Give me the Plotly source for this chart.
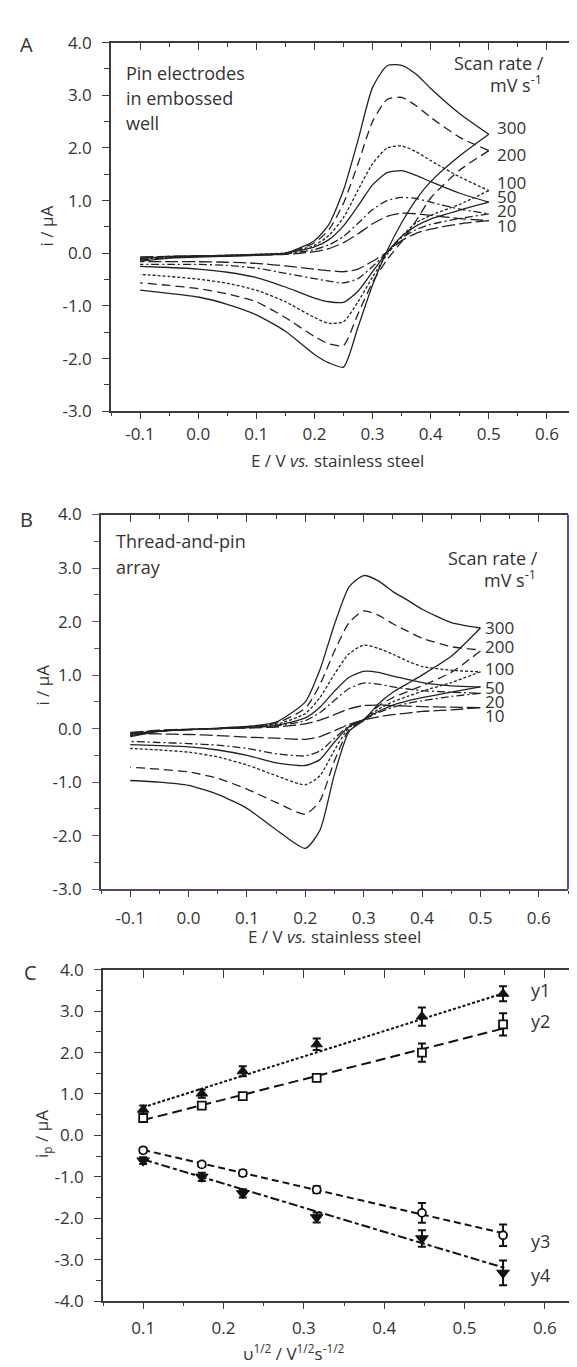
import plotly.graph_objects as go

# ---------------- DATA ----------------
# Potential grids (V vs. stainless steel)
E_fwd = [-0.1, -0.05, 0.0, 0.05, 0.1, 0.15, 0.2, 0.225, 0.25, 0.275, 0.3, 0.325, 0.35, 0.375, 0.4, 0.45, 0.5]
E_rev = [0.5, 0.45, 0.4, 0.375, 0.35, 0.325, 0.3, 0.275, 0.25, 0.225, 0.2, 0.15, 0.1, 0.05, 0.0, -0.05, -0.1]
scan_rates = ["300", "200", "100", "50", "20", "10"]

# Panel A: pin electrodes in embossed well (current, uA)
a_fwd_300 = [-0.15, -0.09, -0.07, -0.06, -0.04, 0.0, 0.24, 0.55, 1.2, 2.15, 3.15, 3.56, 3.57, 3.4, 3.13, 2.65, 2.26]
a_fwd_200 = [-0.13, -0.08, -0.06, -0.05, -0.03, 0.0, 0.2, 0.45, 0.95, 1.7, 2.5, 2.92, 2.96, 2.8, 2.58, 2.2, 1.95]
a_fwd_100 = [-0.12, -0.07, -0.05, -0.04, -0.02, 0.01, 0.15, 0.34, 0.68, 1.2, 1.7, 2.0, 2.04, 1.93, 1.76, 1.45, 1.19]
a_fwd_50 = [-0.1, -0.06, -0.05, -0.04, -0.02, 0.0, 0.12, 0.26, 0.52, 0.9, 1.3, 1.53, 1.57, 1.48, 1.36, 1.14, 0.97]
a_fwd_20 = [-0.09, -0.06, -0.05, -0.04, -0.03, -0.01, 0.07, 0.16, 0.32, 0.57, 0.83, 1.0, 1.06, 1.04, 0.97, 0.84, 0.75]
a_fwd_10 = [-0.07, -0.06, -0.05, -0.04, -0.03, -0.02, 0.03, 0.09, 0.2, 0.37, 0.56, 0.7, 0.76, 0.75, 0.72, 0.66, 0.62]

a_rev_300 = [2.26, 1.85, 1.36, 1.02, 0.58, 0.05, -0.6, -1.4, -2.16, -2.08, -1.92, -1.48, -1.17, -0.97, -0.83, -0.76, -0.70]
a_rev_200 = [1.95, 1.58, 1.05, 0.62, 0.22, -0.12, -0.55, -1.15, -1.75, -1.72, -1.58, -1.22, -0.92, -0.77, -0.67, -0.61, -0.56]
a_rev_100 = [1.19, 0.93, 0.72, 0.58, 0.32, -0.02, -0.45, -0.92, -1.3, -1.33, -1.22, -0.92, -0.70, -0.57, -0.49, -0.44, -0.40]
a_rev_50 = [0.97, 0.82, 0.65, 0.52, 0.32, 0.02, -0.35, -0.72, -0.93, -0.92, -0.85, -0.64, -0.46, -0.36, -0.30, -0.27, -0.25]
a_rev_20 = [0.75, 0.66, 0.55, 0.45, 0.29, 0.02, -0.25, -0.48, -0.56, -0.53, -0.48, -0.38, -0.28, -0.23, -0.21, -0.21, -0.21]
a_rev_10 = [0.62, 0.56, 0.46, 0.38, 0.24, 0.02, -0.15, -0.3, -0.35, -0.33, -0.30, -0.24, -0.19, -0.17, -0.16, -0.16, -0.16]

# Panel B: thread-and-pin array (current, uA)
b_fwd_300 = [-0.15, -0.05, -0.02, 0.01, 0.04, 0.12, 0.5, 1.1, 1.95, 2.65, 2.86, 2.76, 2.56, 2.4, 2.23, 1.98, 1.88]
b_fwd_200 = [-0.13, -0.05, -0.02, 0.0, 0.03, 0.1, 0.38, 0.82, 1.45, 1.98, 2.2, 2.12, 1.96, 1.82, 1.69, 1.53, 1.47]
b_fwd_100 = [-0.12, -0.05, -0.02, 0.0, 0.03, 0.08, 0.28, 0.58, 1.02, 1.4, 1.56, 1.5, 1.39, 1.26, 1.16, 1.09, 1.06]
b_fwd_50 = [-0.1, -0.04, -0.02, 0.0, 0.02, 0.06, 0.2, 0.4, 0.7, 0.96, 1.07, 1.05, 0.98, 0.92, 0.86, 0.8, 0.78]
b_fwd_20 = [-0.09, -0.04, -0.02, 0.0, 0.02, 0.05, 0.15, 0.3, 0.53, 0.75, 0.85, 0.83, 0.78, 0.74, 0.71, 0.68, 0.66]
b_fwd_10 = [-0.07, -0.03, -0.01, 0.0, 0.01, 0.03, 0.09, 0.16, 0.26, 0.37, 0.43, 0.44, 0.43, 0.42, 0.41, 0.4, 0.39]

b_rev_300 = [1.88, 1.35, 1.0, 0.84, 0.68, 0.46, 0.15, -0.05, -0.85, -1.9, -2.24, -1.89, -1.49, -1.23, -1.06, -1.0, -0.97]
b_rev_200 = [1.45, 1.05, 0.8, 0.69, 0.58, 0.42, 0.17, -0.02, -0.6, -1.35, -1.6, -1.38, -1.13, -0.93, -0.81, -0.76, -0.72]
b_rev_100 = [1.06, 0.86, 0.7, 0.6, 0.5, 0.36, 0.17, 0.02, -0.4, -0.88, -1.05, -0.88, -0.68, -0.53, -0.44, -0.4, -0.37]
b_rev_50 = [0.78, 0.68, 0.58, 0.52, 0.44, 0.32, 0.17, 0.04, -0.25, -0.58, -0.69, -0.64, -0.5, -0.4, -0.34, -0.32, -0.30]
b_rev_20 = [0.66, 0.6, 0.52, 0.47, 0.4, 0.3, 0.17, 0.05, -0.18, -0.42, -0.51, -0.47, -0.37, -0.31, -0.28, -0.26, -0.24]
b_rev_10 = [0.39, 0.35, 0.32, 0.29, 0.26, 0.22, 0.16, 0.08, -0.04, -0.15, -0.2, -0.18, -0.16, -0.13, -0.11, -0.1, -0.09]

# Panel C: peak current vs square root of scan rate
sqrt_rate = [0.1, 0.173, 0.224, 0.316, 0.447, 0.548]
y1 = [0.62, 1.01, 1.55, 2.2, 2.87, 3.42]
y1_err = [0.1, 0.1, 0.12, 0.14, 0.22, 0.18]
y2 = [0.42, 0.72, 0.95, 1.39, 2.0, 2.68]
y2_err = [0.06, 0.06, 0.06, 0.08, 0.22, 0.27]
y3 = [-0.36, -0.70, -0.91, -1.31, -1.87, -2.41]
y3_err = [0.06, 0.06, 0.07, 0.08, 0.24, 0.26]
y4 = [-0.61, -1.0, -1.40, -1.98, -2.49, -3.32]
y4_err = [0.08, 0.1, 0.1, 0.12, 0.2, 0.3]
fit_x = [0.1, 0.55]
fit_y1 = [0.68, 3.44]
fit_y2 = [0.37, 2.59]
fit_y3 = [-0.35, -2.37]
fit_y4 = [-0.58, -3.2]
series_names = ["y1", "y2", "y3", "y4"]

# Tick labels
e_ticks = [-0.1, 0.0, 0.1, 0.2, 0.3, 0.4, 0.5, 0.6]
e_ticktext = ["-0.1", "0.0", "0.1", "0.2", "0.3", "0.4", "0.5", "0.6"]
i_ticks_ab = [-3, -2, -1, 0, 1, 2, 3, 4]
i_ticktext_ab = ["-3.0", "-2.0", "-1.0", "0.0", "1.0", "2.0", "3.0", "4.0"]
i_ticks_c = [-4, -3, -2, -1, 0, 1, 2, 3, 4]
i_ticktext_c = ["-4.0", "-3.0", "-2.0", "-1.0", "0.0", "1.0", "2.0", "3.0", "4.0"]
u_ticks = [0.1, 0.2, 0.3, 0.4, 0.5, 0.6]
u_ticktext = ["0.1", "0.2", "0.3", "0.4", "0.5", "0.6"]

# ---------------- STYLE / LAYOUT ----------------
W, H = 577, 1367
FONT = "Open Sans"
INK = "#222222"
AXC = "#3c3c3c"
PURPLE = "#5b4f9e"

dash_for = {"300": "solid", "200": "9px,5px", "100": "3px,2px", "50": "solid",
            "20": "8px,3px,2px,3px", "10": "13px,4px"}

def dom_x(a, b):
    return [a / W, b / W]

def dom_y(top, bottom):
    return [1 - bottom / H, 1 - top / H]

fig = go.Figure()

panels = [
    ("x", "y", [a_fwd_300, a_fwd_200, a_fwd_100, a_fwd_50, a_fwd_20, a_fwd_10],
     [a_rev_300, a_rev_200, a_rev_100, a_rev_50, a_rev_20, a_rev_10]),
    ("x2", "y2", [b_fwd_300, b_fwd_200, b_fwd_100, b_fwd_50, b_fwd_20, b_fwd_10],
     [b_rev_300, b_rev_200, b_rev_100, b_rev_50, b_rev_20, b_rev_10]),
]
for xa, ya, fwds, revs in panels:
    for rate, fw, rv in zip(scan_rates, fwds, revs):
        for ex, cur in ((E_fwd, fw), (E_rev, rv)):
            fig.add_trace(go.Scatter(
                x=ex, y=cur, mode="lines", xaxis=xa, yaxis=ya, showlegend=False,
                line=dict(color=INK, width=1.3, dash=dash_for[rate], shape="spline", smoothing=0.6),
                hoverinfo="skip"))

# Panel C
fit_style = {"y1": "3px,2px", "y2": "10px,5px", "y3": "7px,4px", "y4": "9px,3px,4px,3px"}
fits = [fit_y1, fit_y2, fit_y3, fit_y4]
for name, fy in zip(series_names, fits):
    fig.add_trace(go.Scatter(x=fit_x, y=fy, mode="lines", xaxis="x3", yaxis="y3", showlegend=False,
                             line=dict(color="#111", width=2, dash=fit_style[name]), hoverinfo="skip"))
marker_defs = [
    (y1, y1_err, dict(symbol="triangle-up", size=10, color="#111", line=dict(color="#111", width=1))),
    (y2, y2_err, dict(symbol="square", size=8, color="white", line=dict(color="#111", width=1.8))),
    (y3, y3_err, dict(symbol="circle", size=8, color="white", line=dict(color="#111", width=1.8))),
    (y4, y4_err, dict(symbol="triangle-down", size=11, color="#111", line=dict(color="#111", width=1))),
]
for yy, ee, mk in marker_defs:
    fig.add_trace(go.Scatter(x=sqrt_rate, y=yy, mode="markers", xaxis="x3", yaxis="y3", showlegend=False,
                             marker=mk, hoverinfo="skip",
                             error_y=dict(type="data", array=ee, visible=True, thickness=2, width=4, color="#111")))

# dummy traces for top overlay axes
for xa, ya in (("x4", "y"), ("x5", "y2"), ("x6", "y3")):
    fig.add_trace(go.Scatter(x=[None], y=[None], xaxis=xa, yaxis=ya, showlegend=False, hoverinfo="skip"))

tickfont = dict(family=FONT, size=17, color="#333")

def bottom_axis(domain, rng, tv, tt, anchor, minor_dt, standoff, linecol=AXC):
    return dict(domain=domain, range=rng, anchor=anchor, showgrid=False, zeroline=False,
                showline=True, linecolor=linecol, linewidth=1.6, ticks="outside", ticklen=6,
                tickwidth=1.4, tickcolor=AXC, tickvals=tv, ticktext=tt, tickfont=tickfont,
                ticklabelstandoff=standoff,
                minor=dict(dtick=minor_dt, tick0=0, ticks="outside", ticklen=3, tickwidth=1.2,
                           tickcolor=AXC, showgrid=False))

def top_axis(over, anchor, rng, major_dt, minor_dt):
    return dict(overlaying=over, anchor=anchor, side="top", range=rng, showgrid=False, zeroline=False,
                showline=True, linecolor=AXC, linewidth=1.6, ticks="inside", ticklen=8, tickwidth=1.4,
                tickcolor=AXC, dtick=major_dt, tick0=0, showticklabels=False,
                minor=dict(dtick=minor_dt, tick0=0, ticks="inside", ticklen=5, tickwidth=1.2,
                           tickcolor=AXC, showgrid=False))

def left_axis(domain, rng, tv, tt, anchor, tickcol=AXC):
    return dict(domain=domain, range=rng, anchor=anchor, showgrid=False, zeroline=False,
                showline=True, linecolor=AXC, linewidth=1.6, ticks="outside", ticklen=7,
                tickwidth=1.4, tickcolor=tickcol, tickvals=tv, ticktext=tt, tickfont=tickfont,
                ticklabelstandoff=7,
                minor=dict(dtick=0.5, tick0=0, ticks="outside", ticklen=5, tickwidth=1.2,
                           tickcolor=tickcol, showgrid=False))

A_X, A_Y = dom_x(103, 568), dom_y(23, 398)
B_X, B_Y = dom_x(93, 560), dom_y(503, 884)
C_X, C_Y = dom_x(95, 577), dom_y(966, 1303)
E_RANGE = [-0.15, 0.65]
U_RANGE = [0.05, 0.65]

fig.update_layout(
    width=W, height=H, margin=dict(l=0, r=0, t=0, b=0),
    paper_bgcolor="white", plot_bgcolor="white", showlegend=False,
    font=dict(family=FONT, size=17, color="#333"),
    xaxis=bottom_axis(A_X, E_RANGE, e_ticks, e_ticktext, "y", 0.05, 0),
    yaxis=left_axis(A_Y, [-3, 4], i_ticks_ab, i_ticktext_ab, "x"),
    xaxis4=top_axis("x", "y", E_RANGE, 0.1, 0.05),
    xaxis2=bottom_axis(B_X, E_RANGE, e_ticks, e_ticktext, "y2", 0.05, 7, linecol="#4a4a6a"),
    yaxis2=left_axis(B_Y, [-3, 4], i_ticks_ab, i_ticktext_ab, "x2", tickcol="#5b4f9e"),
    xaxis5=top_axis("x2", "y2", E_RANGE, 0.1, 0.05),
    xaxis3=bottom_axis(C_X, U_RANGE, u_ticks, u_ticktext, "y3", 0.05, 5),
    yaxis3=left_axis(C_Y, [-4, 4], i_ticks_c, i_ticktext_c, "x3"),
    xaxis6=top_axis("x3", "y3", U_RANGE, 0.1, 0.05),
)

# right purple borders for A and B
for xa, ya in (("x", "y"), ("x2", "y2")):
    fig.add_shape(type="line", xref=f"{xa} domain", yref=f"{ya} domain", x0=1, x1=1, y0=0, y1=1,
                  line=dict(color=PURPLE, width=2))

ann = []

def add_text(text, x, y, xref, yref, xanchor="left", yanchor="middle", size=18, angle=0):
    ann.append(dict(text=text, x=x, y=y, xref=xref, yref=yref, xanchor=xanchor, yanchor=yanchor,
                    showarrow=False, textangle=angle, font=dict(family=FONT, size=size, color="#333")))

# Panel letters
add_text("A", 18 / W, 1 - 25 / H, "paper", "paper", xanchor="center", size=20)
add_text("B", 18 / W, 1 - 508 / H, "paper", "paper", xanchor="center", size=20)
add_text("C", 22 / W, 1 - 969 / H, "paper", "paper", xanchor="center", size=20)

# Axis titles
add_text("i / μA", 38 / W, 1 - 210 / H, "paper", "paper", xanchor="center", angle=-90, size=17)
add_text("i / μA", 35 / W, 1 - 677 / H, "paper", "paper", xanchor="center", angle=-90, size=17)
add_text("i<sub>p</sub> / μA", 35 / W, 1 - 1133 / H, "paper", "paper", xanchor="center", angle=-90, size=17)
add_text("E / V <i>vs.</i> stainless steel", 0.24, 1 - 448 / H, "x", "paper", xanchor="center", size=17)
add_text("E / V <i>vs.</i> stainless steel", 0.25, 1 - 932 / H, "x2", "paper", xanchor="center", size=17)
add_text("υ<sup>1/2</sup> / V<sup>1/2</sup>s<sup>-1/2</sup>", 0.288, 1 - 1355 / H, "x3", "paper",
         xanchor="center", size=17)

# Panel A text
for t, yy in zip(["Pin electrodes", "in embossed", "well"], [3.43, 2.94, 2.48]):
    add_text(t, -0.128, yy, "x", "y")
add_text("Scan rate /", 0.598, 3.62, "x", "y", xanchor="right")
add_text("mV s<sup>-1</sup>", 0.595, 3.22, "x", "y", xanchor="right")
for lab, yy in zip(scan_rates, [2.39, 1.87, 1.35, 1.08, 0.81, 0.52]):
    add_text(lab, 0.511, yy, "x", "y", size=17)

# Panel B text
for t, yy in zip(["Thread-and-pin", "array"], [3.5, 3.02]):
    add_text(t, -0.128, yy, "x2", "y2")
add_text("Scan rate /", 0.602, 3.19, "x2", "y2", xanchor="right")
add_text("mV s<sup>-1</sup>", 0.599, 2.80, "x2", "y2", xanchor="right")
for lab, yy in zip(scan_rates, [1.89, 1.53, 1.12, 0.77, 0.5, 0.24]):
    add_text(lab, 0.505, yy, "x2", "y2", size=17)

# Panel C series labels
for lab, yy in zip(series_names, [3.51, 2.77, -2.55, -3.38]):
    add_text(lab, 0.58, yy, "x3", "y3")

fig.update_layout(annotations=ann)
fig.write_html("out.html")
